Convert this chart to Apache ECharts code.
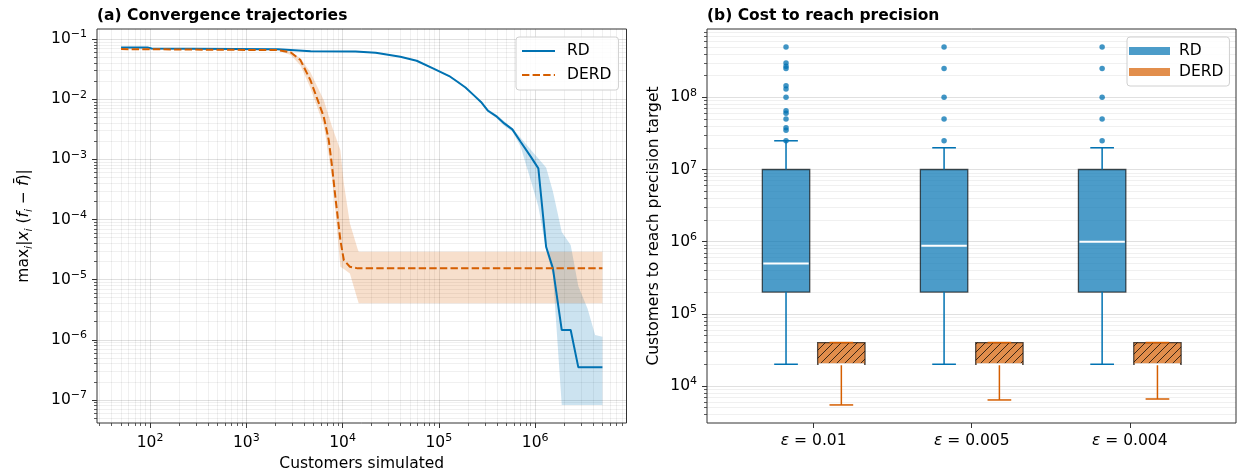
<!DOCTYPE html>
<html>
<head>
<meta charset="utf-8">
<script src="https://cdn.jsdelivr.net/npm/echarts@6.0.0/dist/echarts.min.js"></script>
<style>
html, body { margin: 0; padding: 0; background: #fff; }
#chart { width: 1238px; height: 471px; }
</style>
</head>
<body>
<div id="chart"></div>
<script>
// ---- panel (a): convergence trajectories ----
const rdX = [50, 94, 104, 2140, 4660, 13600, 22100, 39800, 58800, 86900, 128000, 156000, 189000, 230000, 279000, 324000,
    393000, 478000, 580000, 706000, 900000, 1080000, 1300000, 1530000, 1890000, 2340000, 2810000, 3500000, 4200000, 5000000];
const rdMean = [0.0728, 0.0728, 0.070, 0.0675, 0.0631, 0.0624, 0.0593, 0.0508, 0.0437, 0.0326, 0.0243, 0.0195, 0.0157, 0.0117,
    0.00873, 0.00643, 0.00525, 0.00396, 0.00315, 0.00196, 0.00111, 0.000708, 3.52e-5, 1.54e-5, 1.45e-6, 1.45e-6,
    3.48e-7, 3.48e-7, 3.48e-7, 3.48e-7];
const rdLo = [0.0715, 0.0715, 0.0688, 0.0663, 0.0620, 0.0612, 0.0582, 0.0498, 0.0428, 0.0318, 0.0236, 0.0189, 0.0152, 0.0113,
    0.0084, 0.0061, 0.0049, 0.0036, 0.0029, 0.00164, 0.00045, 0.000165, 3.08e-5, 1.21e-5, 8.2e-8, 8.2e-8,
    8.2e-8, 8.2e-8, 8.2e-8, 8.2e-8];
const rdHi = [0.074, 0.074, 0.0712, 0.0687, 0.0642, 0.0636, 0.0604, 0.0518, 0.0446, 0.0334, 0.025, 0.0201, 0.0162, 0.0121,
    0.0091, 0.0068, 0.0056, 0.0043, 0.0033, 0.00229, 0.00145, 0.00103, 0.00073, 0.000291, 6.2e-5, 3.76e-5,
    7.8e-6, 3.3e-6, 1.2e-6, 1.12e-6];

const derdX = [50, 2140, 2880, 3650, 4630, 6370, 7180, 7780, 8410, 9480, 10300, 11900, 14300, 14700, 5000000];
const derdMean = [0.0682, 0.0656, 0.0603, 0.0448, 0.0208, 0.00512, 0.00209, 0.000753, 0.000239, 4.55e-5, 2.12e-5,
    1.64e-5, 1.54e-5, 1.54e-5, 1.54e-5];
const derdLo = [0.0672, 0.0645, 0.0545, 0.0363, 0.0154, 0.00366, 0.00117, 0.000453, 0.000141, 1.64e-5, 1.5e-5,
    1.27e-5, 4.68e-6, 4.04e-6, 4.04e-6];
const derdHi = [0.0692, 0.0667, 0.0625, 0.0479, 0.028, 0.00968, 0.00526, 0.00348, 0.00245, 0.00143, 0.000399,
    8.65e-5, 3.26e-5, 2.91e-5, 2.91e-5];

const leftXTicks = [1e2, 1e3, 1e4, 1e5, 1e6];
const leftYTicks = [1e-7, 1e-6, 1e-5, 1e-4, 1e-3, 1e-2, 1e-1];

// ---- panel (b): cost to reach precision ----
const epsLabels = ['0.01', '0.005', '0.004'];
// [whisker low, q1, median, q3, whisker high]
const rdBox = [[2e4, 2e5, 5e5, 1e7, 2.5e7], [2e4, 2e5, 8.75e5, 1e7, 2e7], [2e4, 2e5, 1e6, 1e7, 2e7]];
const derdBox = [[5.46e3, 2e4, 2e4, 4e4, 4e4], [6.4e3, 2e4, 2e4, 4e4, 4e4], [6.6e3, 2e4, 2e4, 4e4, 4e4]];
const rdOutliers = [
    [5e8, 3e8, 2.7e8, 2.5e8, 1.45e8, 1.3e8, 1e8, 6.5e7, 6e7, 5e7, 3.8e7, 3.5e7, 2.5e7],
    [5e8, 2.5e8, 1e8, 5e7, 2.5e7],
    [5e8, 2.5e8, 1e8, 5e7, 2.5e7]
];
const rightYTicks = [1e4, 1e5, 1e6, 1e7, 1e8];

const FONT = 'DejaVu Sans';
const BLUE = '#0072B2';
const ORANGE = '#D55E00';
const FS = 15.5;
const MAJOR_GRID = 'rgba(0,0,0,0.12)';
const MINOR_GRID = 'rgba(0,0,0,0.06)';

const LX = [Math.pow(10, 1.449), Math.pow(10, 6.949)];
const LY = [Math.pow(10, -7.384), Math.pow(10, -0.832)];
const RX = [-0.675, 2.672];
const RY = [Math.pow(10, 3.487), Math.pow(10, 8.947)];

const boxOffset = 0.175, boxWidth = 0.3, capWidth = 0.15;

function minorsIn(range) {
    let out = [];
    let e0 = Math.floor(Math.log10(range[0])), e1 = Math.ceil(Math.log10(range[1]));
    for (let e = e0; e <= e1; e++) {
        for (let k = 2; k <= 9; k++) {
            let v = k * Math.pow(10, e);
            if (v >= range[0] && v <= range[1]) out.push(v);
        }
    }
    return out;
}

const supRich = {
    b: {fontSize: FS, fontFamily: FONT, color: '#000', lineHeight: 20},
    s: {fontSize: 11, fontFamily: FONT, color: '#000', lineHeight: 11, verticalAlign: 'top'}
};
const pow10 = v => '{b|10}{s|' + String(Math.round(Math.log10(v))).replace('-', '\u2212') + '}';

const majorLog = (gridIndex, range, ticks, grid, extra) => Object.assign({
    type: 'log', logBase: 10, gridIndex: gridIndex, min: range[0], max: range[1],
    axisLine: {show: false, onZero: false},
    axisTick: {show: true, length: 5, lineStyle: {color: '#333', width: 1}, customValues: ticks},
    axisLabel: {customValues: ticks, formatter: pow10, rich: supRich, margin: 10},
    splitLine: {show: grid, lineStyle: {color: MAJOR_GRID, width: 1}},
    minorTick: {show: false}, minorSplitLine: {show: false}
}, extra || {});
const minorLog = (gridIndex, range, grid) => ({
    type: 'log', logBase: 10, gridIndex: gridIndex, min: range[0], max: range[1],
    axisLine: {show: false, onZero: false},
    axisTick: {show: true, length: 3, lineStyle: {color: '#333', width: 0.8}, customValues: minorsIn(range)},
    axisLabel: {show: false},
    splitLine: {show: grid, lineStyle: {color: MINOR_GRID, width: 1}}
});

// band polygons drawn through the axes
const bandRender = (xs, lo, hi, color) => (params, api) => {
    if (params.dataIndex !== 0) return;
    let pts = [];
    for (let i = 0; i < xs.length; i++) pts.push(api.coord([xs[i], hi[i]]));
    for (let i = xs.length - 1; i >= 0; i--) pts.push(api.coord([xs[i], lo[i]]));
    return {type: 'polygon', shape: {points: pts}, style: {fill: color}, silent: true};
};

const makeHatch = () => {
    let c = document.createElement('canvas');
    c.width = 8; c.height = 8;
    let g = c.getContext('2d');
    g.strokeStyle = 'rgba(30,20,10,0.85)';
    g.lineWidth = 1;
    g.beginPath();
    g.moveTo(0, 8); g.lineTo(8, 0);
    g.moveTo(-4, 4); g.lineTo(4, -4);
    g.moveTo(4, 12); g.lineTo(12, 4);
    g.stroke();
    return c;
};
const hatch = makeHatch();

const boxRender = (color, fill, hatched) => (params, api) => {
    let pos = api.value(0), lo = api.value(1), q1 = api.value(2), med = api.value(3), q3 = api.value(4), hi = api.value(5);
    let tl = api.coord([pos - boxWidth / 2, q3]);
    let br = api.coord([pos + boxWidth / 2, q1]);
    let cx = api.coord([pos, q1])[0];
    let cl = api.coord([pos - capWidth / 2, q1])[0], cr = api.coord([pos + capWidth / 2, q1])[0];
    let yLo = api.coord([pos, lo])[1], yHi = api.coord([pos, hi])[1], yMed = api.coord([pos, med])[1];
    let rect = {x: tl[0], y: tl[1], width: br[0] - tl[0], height: br[1] - tl[1]};
    let wl = {stroke: color, lineWidth: 1.5};
    let kids = [{type: 'rect', shape: rect, style: {fill: fill, stroke: 'rgba(0,0,0,0.65)', lineWidth: 1.3}}];
    if (hatched) kids.push({type: 'rect', shape: rect, style: {fill: {image: hatch, repeat: 'repeat'}}});
    kids.push(
        {type: 'line', shape: {x1: cx, y1: br[1], x2: cx, y2: yLo}, style: wl},
        {type: 'line', shape: {x1: cx, y1: tl[1], x2: cx, y2: yHi}, style: wl},
        {type: 'line', shape: {x1: cl, y1: yLo, x2: cr, y2: yLo}, style: wl},
        {type: 'line', shape: {x1: cl, y1: yHi, x2: cr, y2: yHi}, style: wl},
        {type: 'line', shape: {x1: tl[0] + 1, y1: yMed, x2: br[0] - 1, y2: yMed}, style: {stroke: '#fff', lineWidth: 2}}
    );
    return {type: 'group', children: kids};
};

let chart = echarts.init(document.getElementById('chart'), null, {renderer: 'canvas'});

let option = {
    animation: false,
    backgroundColor: '#fff',
    textStyle: {fontFamily: FONT},
    title: [
        {text: '(a) Convergence trajectories', left: 97, top: 8, padding: 0,
            textStyle: {fontSize: FS, fontWeight: 'bold', fontFamily: FONT, color: '#000'}},
        {text: '(b) Cost to reach precision', left: 707, top: 8, padding: 0,
            textStyle: {fontSize: FS, fontWeight: 'bold', fontFamily: FONT, color: '#000'}}
    ],
    grid: [
        {left: 97, top: 29, width: 529.5, height: 394, show: true, borderColor: '#333', borderWidth: 1,
            backgroundColor: 'transparent', outerBoundsMode: 'none'},
        {left: 707, top: 29, width: 529, height: 394, show: true, borderColor: '#333', borderWidth: 1,
            backgroundColor: 'transparent', outerBoundsMode: 'none'}
    ],
    legend: [
        {
            data: ['RD', 'DERD'], orient: 'vertical', left: 516, top: 37,
            itemWidth: 33, itemHeight: 14, itemGap: 8,
            itemStyle: {opacity: 0},
            padding: [6, 7, 7, 5], backgroundColor: 'rgba(255,255,255,0.85)',
            borderColor: '#d0d0d0', borderWidth: 1, borderRadius: 3,
            textStyle: {fontSize: FS, fontFamily: FONT, color: '#000', padding: [0, 0, 0, 7]}
        },
        {
            data: [
                {name: 'RD_b', icon: 'rect', itemStyle: {color: 'rgba(0,114,178,0.7)'}},
                {name: 'DERD_b', icon: 'rect', itemStyle: {color: 'rgba(213,94,0,0.7)'}}
            ],
            orient: 'vertical', left: 1127, top: 37,
            itemWidth: 41, itemHeight: 8, itemGap: 5,
            padding: [6, 6, 6, 2], backgroundColor: 'rgba(255,255,255,0.85)',
            borderColor: '#d0d0d0', borderWidth: 1, borderRadius: 3,
            formatter: n => n.replace('_b', ''),
            textStyle: {fontSize: FS, fontFamily: FONT, color: '#000', padding: [0, 0, 0, 4]}
        }
    ],
    xAxis: [
        majorLog(0, LX, leftXTicks, true, {
            position: 'bottom',
            name: 'Customers simulated', nameLocation: 'middle', nameGap: 30,
            nameTextStyle: {fontSize: FS, fontFamily: FONT, color: '#000'}
        }),
        Object.assign(minorLog(0, LX, true), {position: 'bottom'}),
        {
            type: 'value', gridIndex: 1, min: RX[0], max: RX[1], position: 'bottom',
            axisLine: {show: false, onZero: false},
            axisTick: {show: true, length: 5, lineStyle: {color: '#333'}, customValues: [0, 1, 2]},
            axisLabel: {
                customValues: [0, 1, 2], margin: 10,
                formatter: v => '{e|\u03b5} = ' + epsLabels[Math.round(v)],
                fontSize: FS, fontFamily: FONT, color: '#000',
                rich: {e: {fontSize: FS, fontFamily: FONT, fontStyle: 'italic', color: '#000'}}
            },
            splitLine: {show: false}
        }
    ],
    yAxis: [
        majorLog(0, LY, leftYTicks, true, {
            position: 'left',
            name: '{t|max}{s|i}{t||}{i|x}{s|i}{t| (}{i|f}{s|i}{t| \u2212 }{i|f\u0304}{t|)|}',
            nameLocation: 'middle', nameGap: 62, nameRotate: 90,
            nameTextStyle: {
                rich: {
                    t: {fontSize: FS, fontFamily: FONT, color: '#000', lineHeight: 22},
                    i: {fontSize: FS, fontFamily: FONT, fontStyle: 'italic', color: '#000', lineHeight: 22},
                    s: {fontSize: 11, fontFamily: FONT, fontStyle: 'italic', color: '#000', lineHeight: 11, verticalAlign: 'bottom'}
                }
            }
        }),
        Object.assign(minorLog(0, LY, true), {position: 'left'}),
        majorLog(1, RY, rightYTicks, true, {
            position: 'left',
            name: 'Customers to reach precision target', nameLocation: 'middle', nameGap: 45,
            nameTextStyle: {fontSize: FS, fontFamily: FONT, color: '#000'}
        }),
        Object.assign(minorLog(1, RY, true), {position: 'left'})
    ],
    series: [
        {
            name: 'RD band', type: 'custom', xAxisIndex: 0, yAxisIndex: 0, clip: true, z: 1,
            renderItem: bandRender(rdX, rdLo, rdHi, 'rgba(0,114,178,0.2)'),
            encode: {x: 0, y: [1, 2]},
            data: rdX.map((x, i) => [x, rdLo[i], rdHi[i]])
        },
        {
            name: 'DERD band', type: 'custom', xAxisIndex: 0, yAxisIndex: 0, clip: true, z: 1,
            renderItem: bandRender(derdX, derdLo, derdHi, 'rgba(213,94,0,0.2)'),
            encode: {x: 0, y: [1, 2]},
            data: derdX.map((x, i) => [x, derdLo[i], derdHi[i]])
        },
        {
            name: 'RD', type: 'line', xAxisIndex: 0, yAxisIndex: 0, symbol: 'none', z: 3,
            lineStyle: {color: BLUE, width: 2}, itemStyle: {color: BLUE},
            data: rdX.map((x, i) => [x, rdMean[i]])
        },
        {
            name: 'DERD', type: 'line', xAxisIndex: 0, yAxisIndex: 0, symbol: 'none', z: 3,
            lineStyle: {color: ORANGE, width: 2, type: [7.4, 3.2]}, itemStyle: {color: ORANGE},
            data: derdX.map((x, i) => [x, derdMean[i]])
        },
        {
            name: 'RD_b', type: 'custom', xAxisIndex: 2, yAxisIndex: 2, z: 3,
            itemStyle: {color: 'rgba(0,114,178,0.7)'},
            renderItem: boxRender(BLUE, 'rgba(0,114,178,0.7)', false),
            encode: {x: 0, y: [1, 2, 3, 4, 5]},
            data: rdBox.map((b, i) => [i - boxOffset].concat(b))
        },
        {
            name: 'DERD_b', type: 'custom', xAxisIndex: 2, yAxisIndex: 2, z: 3,
            itemStyle: {color: 'rgba(213,94,0,0.7)'},
            renderItem: boxRender(ORANGE, 'rgba(213,94,0,0.7)', true),
            encode: {x: 0, y: [1, 2, 3, 4, 5]},
            data: derdBox.map((b, i) => [i + boxOffset].concat(b))
        },
        {
            name: 'RD outliers', type: 'scatter', xAxisIndex: 2, yAxisIndex: 2, z: 4,
            symbol: 'circle', symbolSize: 5.5,
            itemStyle: {color: BLUE, opacity: 0.75},
            data: rdOutliers.flatMap((arr, i) => arr.map(v => [i - boxOffset, v]))
        }
    ]
};

chart.setOption(option);
</script>
</body>
</html>
